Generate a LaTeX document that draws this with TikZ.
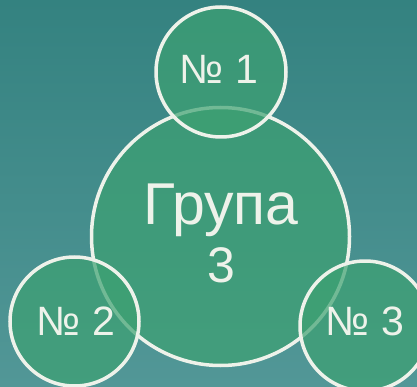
\documentclass[tikz,border=0pt]{standalone}
\usepackage{fontspec}
\setmainfont{Liberation Sans}
\definecolor{bgtop}{HTML}{348280}
\definecolor{bgbot}{HTML}{529797}
\definecolor{circfill}{HTML}{3DA172}
\definecolor{circline}{HTML}{EEF2EA}
\begin{document}
\begin{tikzpicture}[x=1pt,y=-1pt,
  bubble/.style={circle, fill=circfill, fill opacity=0.7, draw=circline, draw opacity=1, line width=3.5pt, inner sep=0pt},
  lbl/.style={text=circline, font=\fontsize{41}{45}\selectfont, anchor=base, inner sep=0pt},
  biglbl/.style={text=circline, font=\fontsize{59}{58}\selectfont, align=center, inner sep=0pt}]
  \shade[top color=bgtop, bottom color=bgbot] (0,0) rectangle (417,387);
  \useasboundingbox (0,0) rectangle (417,387);
  \node[bubble, minimum size=258pt] (big) at (220.5,236.5) {};
  \node[bubble, minimum size=130pt] (c1) at (221,72) {};
  \node[bubble, minimum size=129pt] (c2) at (74.5,321.5) {};
  \node[bubble, minimum size=130pt] (c3) at (365,326) {};
  \node[biglbl] (t0) at (221,233) {Група\\{\fontsize{50}{58}\selectfont 3}};
  \node[lbl] (t1) at (219,84) {№ 1};
  \node[lbl] (t2) at (76,335.5) {№ 2};
  \node[lbl] (t3) at (365,335.5) {№ 3};
\end{tikzpicture}
\end{document}
